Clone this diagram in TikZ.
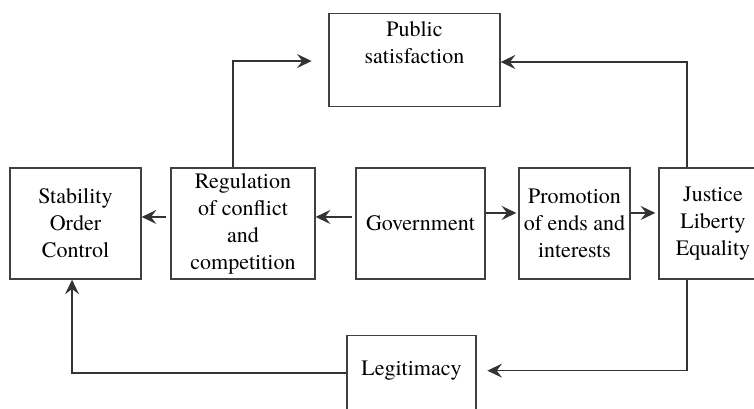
\documentclass[tikz,border=0pt]{standalone}
\usepackage{fontspec}
\setmainfont{texgyretermes}[Extension=.otf, UprightFont=*-regular,
  BoldFont=*-bold, ItalicFont=*-italic, BoldItalicFont=*-bolditalic]
\usetikzlibrary{arrows.meta}
\begin{document}
% positions are given in pixels (0.75pt each), measured downward
\begin{tikzpicture}[x=0.75pt,y=-0.75pt,
  box/.style={draw=black!75, line width=1pt, align=center, inner sep=0pt,
    font=\fontsize{16.5}{20.25}\selectfont},
  arr/.style={draw=black!80, line width=1.1pt,
    -{Stealth[length=11pt, width=10.5pt, inset=4pt]}}]
  \useasboundingbox (0,0) rectangle (754,409);

  % boxes
  \node[box, minimum width=98.25pt, minimum height=83.25pt] (stab) at (75.5,223.5)
    {Stability\\Order\\Control};
  \node[box, minimum width=108pt, minimum height=83.25pt] (reg) at (243,223.5)
    {Regulation\\of conflict\\and\\competition};
  \node[box, minimum width=96.75pt, minimum height=83.25pt] (gov) at (420.5,223.5)
    {Government};
  \node[box, minimum width=83.25pt, minimum height=83.25pt] (prom) at (574.5,223.5)
    {Promotion\\of ends and\\interests};
  \node[box, minimum width=81pt, minimum height=83.25pt] (just) at (713,223.5)
    {Justice\\Liberty\\Equality};
  \node[box, minimum width=128.25pt, minimum height=69.75pt] (pub) at (414.5,60)
    {Public\\satisfaction\\\strut};
  \node[box, minimum width=96.75pt, minimum height=75.75pt] (legit) at (411.5,386)
    {Legitimacy\\\strut};

  % horizontal links along the middle row
  \draw[arr, shorten <=3pt] ([yshift=4.9pt]reg.west) -- ([yshift=4.9pt]stab.east);
  \draw[arr, shorten <=2.25pt] ([yshift=4.9pt]gov.west) -- ([yshift=4.9pt]reg.east);
  \draw[arr, shorten >=1.5pt] ([yshift=7.9pt]gov.east) -- ([yshift=7.9pt]prom.west);
  \draw[arr, shorten >=2.25pt] ([yshift=7.9pt]prom.east) -- ([yshift=7.9pt]just.west);

  % feedback loops to the top and bottom
  \draw[arr, shorten >=12.5pt] ([xshift=-7.5pt]reg.north) |- ([yshift=-0.8pt]pub.west);
  \draw[arr] ([xshift=-19.5pt]just.north) |- ([yshift=-1.5pt]pub.east);
  \draw[arr, shorten >=8pt] ([xshift=-19.5pt]just.south) |- ([yshift=11.5pt]legit.east);
  \draw[arr] ([yshift=9.8pt]legit.west) -| ([xshift=-2.6pt]stab.south);
\end{tikzpicture}
\end{document}
